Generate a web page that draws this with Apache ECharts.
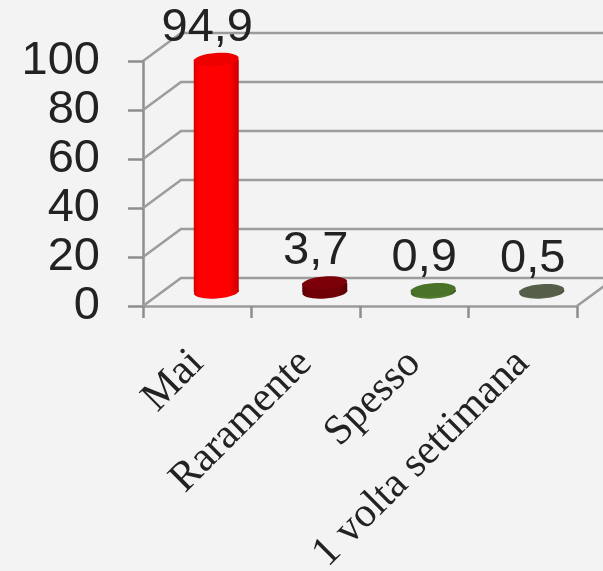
<!DOCTYPE html>
<html>
<head>
<meta charset="utf-8">
<style>
html, body { margin: 0; padding: 0; background: #f3f3f3; }
#chart { width: 603px; height: 571px; filter: blur(0.6px); }
</style>
<script src="https://cdn.jsdelivr.net/npm/echarts@6/dist/echarts.min.js"></script>
</head>
<body>
<div id="chart"></div>
<script>
var categories = ['Mai', 'Raramente', 'Spesso', '1 volta settimana'];
var values = [94.9, 3.7, 0.9, 0.5];
var valueTicks = [0, 20, 40, 60, 80, 100];
var barColors = [
    ['#d40000', '#ff0000', '#ff0000', '#c80000', '#ee0000'],
    ['#580004', '#700006', '#700006', '#580004', '#7c0008'],
    ['#35591f', '#4f7a2c', '#4f7a2c', '#35591f', '#4a7329'],
    ['#3f4636', '#5c654f', '#5c654f', '#3f4636', '#555e49']
];

// depth of the fake 3d box, in pixels
var depthX = 38;
var depthY = 28;
var lineColor = '#9c9c9c';

var myChart = echarts.init(document.getElementById('chart'));

function renderWall(params, api) {
    var tick = api.value(0);
    var rect = params.coordSys;
    var p = api.coord([0, tick]);
    var x0 = rect.x;
    var y0 = p[1];
    var points = [[x0, y0], [x0 + depthX, y0 - depthY], [x0 + rect.width + depthX, y0 - depthY]];
    var children = [{
        type: 'polyline',
        shape: { points: points },
        style: { fill: 'none', stroke: lineColor, lineWidth: 2.5 }
    }];
    if (tick === 0) {
        children.push({
            type: 'line',
            shape: { x1: x0 + rect.width, y1: y0, x2: x0 + rect.width + depthX, y2: y0 - depthY },
            style: { stroke: lineColor, lineWidth: 2.5 }
        });
    }
    return { type: 'group', children: children };
}

function renderCylinder(params, api) {
    var idx = api.value(0);
    var val = api.value(1);
    var base = api.coord([idx, 0]);
    var top = api.coord([idx, val]);
    var cx = base[0] + depthX / 2;
    var by = base[1] - depthY / 2;
    var ty = top[1] - depthY / 2;
    var rx = 22.5;
    var ry = 6.5;
    var c = barColors[idx];
    var side = new echarts.graphic.LinearGradient(0, 0, 1, 0, [
        { offset: 0, color: c[0] },
        { offset: 0.12, color: c[1] },
        { offset: 0.8, color: c[2] },
        { offset: 1, color: c[3] }
    ]);
    var tilt = 0.07;
    return {
        type: 'group',
        children: [{
            type: 'ellipse',
            shape: { cx: cx, cy: by, rx: rx, ry: ry },
            originX: cx, originY: by, rotation: tilt,
            style: { fill: side }
        }, {
            type: 'rect',
            shape: { x: cx - rx, y: ty, width: rx * 2, height: by - ty },
            style: { fill: side }
        }, {
            type: 'ellipse',
            shape: { cx: cx, cy: ty, rx: rx, ry: ry },
            originX: cx, originY: ty, rotation: tilt,
            style: { fill: c[4] }
        }, {
            type: 'text',
            x: cx - 9,
            y: ty - 8,
            style: {
                text: String(val).replace('.', ','),
                fill: '#222',
                font: '47px "Liberation Sans"',
                align: 'center',
                verticalAlign: 'bottom'
            }
        }]
    };
}

var option = {
    backgroundColor: '#f3f3f3',
    animation: false,
    grid: { left: 143, top: 61, width: 434, height: 245, outerBoundsMode: 'none' },
    xAxis: {
        type: 'category',
        data: categories,
        axisLine: { lineStyle: { color: lineColor, width: 2.5 } },
        axisTick: { show: true, length: 12, lineStyle: { color: '#8e8e8e', width: 2.5 } },
        axisLabel: {
            interval: 0,
            rotate: 45,
            margin: 51,
            color: '#222',
            fontFamily: 'Liberation Serif',
            fontSize: 42
        }
    },
    yAxis: {
        type: 'value',
        min: 0,
        max: 100,
        interval: 20,
        splitLine: { show: false },
        axisLine: { show: true, lineStyle: { color: '#8e8e8e', width: 2.5 } },
        axisTick: { show: true, length: 15, lineStyle: { color: '#8e8e8e', width: 2.5 } },
        axisLabel: {
            margin: 43,
            color: '#222',
            fontFamily: 'Liberation Sans',
            fontSize: 47
        }
    },
    series: [{
        type: 'custom',
        coordinateSystem: 'cartesian2d',
        clip: false,
        silent: true,
        z: 1,
        data: valueTicks.map(function (t) { return [t]; }),
        encode: { y: 0 },
        renderItem: renderWall
    }, {
        type: 'custom',
        coordinateSystem: 'cartesian2d',
        clip: false,
        z: 3,
        data: values.map(function (v, i) { return [i, v]; }),
        encode: { x: 0, y: 1 },
        renderItem: renderCylinder
    }]
};

myChart.setOption(option);
</script>
</body>
</html>
